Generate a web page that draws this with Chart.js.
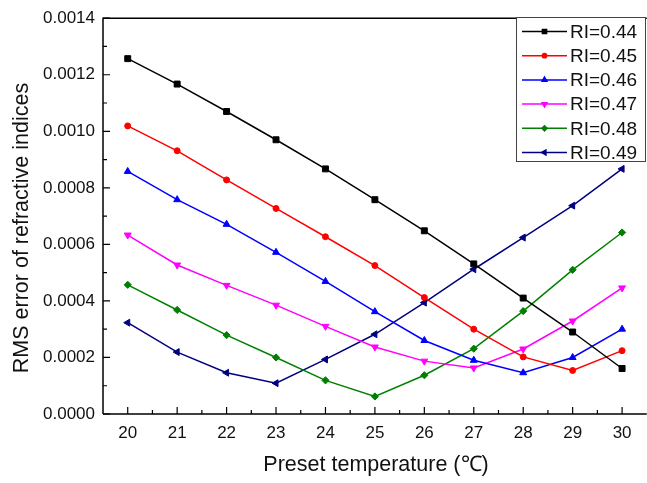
<!DOCTYPE html>
<html lang="en">
<head>
    <meta charset="UTF-8">
    <title>RMS error vs preset temperature</title>
    <script src="https://cdn.jsdelivr.net/npm/chart.js"></script>
    <style>
        html, body {
            margin: 0;
            padding: 0;
            background: #ffffff;
            overflow: hidden;
        }

        .chart-box {
            width: 652px;
            height: 483px;
        }
    </style>
</head>
<body>
    <div class="chart-box">
        <canvas id="rms-chart" width="652" height="483"></canvas>
    </div>

    <script>
        // Data
        const temps = [20, 21, 22, 23, 24, 25, 26, 27, 28, 29, 30];
        const riLabels = ['RI=0.44', 'RI=0.45', 'RI=0.46', 'RI=0.47', 'RI=0.48', 'RI=0.49'];
        const ri044 = [0.001257, 0.001167, 0.00107, 0.00097, 0.000867, 0.000758, 0.000648, 0.000531, 0.000410, 0.000290, 0.000161];
        const ri045 = [0.001019, 0.000931, 0.000828, 0.000727, 0.000627, 0.000525, 0.000412, 0.000300, 0.000202, 0.000154, 0.000224];
        const ri046 = [0.000858, 0.000758, 0.000671, 0.000572, 0.000469, 0.000362, 0.000260, 0.000190, 0.000146, 0.000200, 0.000300];
        const ri047 = [0.000633, 0.000527, 0.000455, 0.000385, 0.000310, 0.000237, 0.000187, 0.000163, 0.000230, 0.000329, 0.000446];
        const ri048 = [0.000457, 0.000368, 0.000279, 0.000200, 0.000119, 0.000062, 0.000137, 0.000231, 0.000364, 0.000510, 0.000642];
        const ri049 = [0.000323, 0.000219, 0.000146, 0.000109, 0.000193, 0.000282, 0.000394, 0.000512, 0.000624, 0.000737, 0.000867];
        const yTicks = [0, 0.0002, 0.0004, 0.0006, 0.0008, 0.0010, 0.0012, 0.0014];

        const series = [ri044, ri045, ri046, ri047, ri048, ri049];
        const colors = ['#000000', '#ff0000', '#0000ff', '#ff00ff', '#008000', '#000080'];
        const markers = [
            { style: 'rect', radius: 4.2, rotation: 0 },
            { style: 'circle', radius: 3, rotation: 0 },
            { style: 'triangle', radius: 4, rotation: 0 },
            { style: 'triangle', radius: 4, rotation: 180 },
            { style: 'rectRot', radius: 3.6, rotation: 0 },
            { style: 'triangle', radius: 4, rotation: -90 }
        ];

        const datasets = series.map((values, i) => ({
            label: riLabels[i],
            data: temps.map((t, j) => ({ x: t, y: values[j] })),
            borderColor: colors[i],
            backgroundColor: colors[i],
            borderWidth: 1.5,
            pointStyle: markers[i].style,
            pointRadius: markers[i].radius,
            pointRotation: markers[i].rotation,
            pointBorderWidth: 1,
            tension: 0
        }));

        // Frame, inward ticks (major + minor), axis titles, legend
        const decorations = {
            id: 'decorations',
            beforeDatasetsDraw(chart) {
                const { ctx, chartArea: a, scales: { x, y } } = chart;
                ctx.save();
                ctx.strokeStyle = '#000';
                ctx.lineWidth = 1.5;
                ctx.beginPath();
                ctx.moveTo(a.left, a.bottom);
                ctx.lineTo(a.left, a.top);
                ctx.lineTo(a.right, a.top);
                ctx.moveTo(a.left, a.bottom);
                ctx.lineTo(a.right, a.bottom);
                ctx.stroke();

                ctx.lineWidth = 1.2;
                ctx.beginPath();
                temps.forEach((t) => {
                    const px = x.getPixelForValue(t);
                    ctx.moveTo(px, a.bottom);
                    ctx.lineTo(px, a.bottom - 7);
                    const mx = x.getPixelForValue(t + 0.5);
                    if (t + 0.5 < x.max) {
                        ctx.moveTo(mx, a.bottom);
                        ctx.lineTo(mx, a.bottom - 4);
                    }
                });
                yTicks.forEach((v, i) => {
                    const py = y.getPixelForValue(v);
                    ctx.moveTo(a.left, py);
                    ctx.lineTo(a.left + 7, py);
                    if (i < yTicks.length - 1) {
                        const my = y.getPixelForValue((v + yTicks[i + 1]) / 2);
                        ctx.moveTo(a.left, my);
                        ctx.lineTo(a.left + 4, my);
                    }
                });
                ctx.stroke();

                // axis titles
                ctx.fillStyle = '#111';
                ctx.font = '21.5px Arial, "Liberation Sans", sans-serif';
                ctx.textAlign = 'center';
                ctx.textBaseline = 'middle';
                ctx.fillText('Preset temperature (\u2103)', 376, 465);
                ctx.translate(22, 228);
                ctx.rotate(-Math.PI / 2);
                ctx.fillText('RMS error of refractive indices', 0, 0);
                ctx.restore();
            },
            afterDraw(chart) {
                const { ctx } = chart;
                const left = 516, top = 17, width = 130, height = 145, rowH = 24.2;
                ctx.save();
                ctx.fillStyle = '#ffffff';
                ctx.fillRect(left, top, width, height);
                ctx.strokeStyle = '#444';
                ctx.lineWidth = 1;
                ctx.strokeRect(left + 0.5, top + 0.5, width - 1, height - 1);
                ctx.font = '19px Arial, "Liberation Sans", sans-serif';
                ctx.textAlign = 'left';
                ctx.textBaseline = 'middle';
                chart.data.datasets.forEach((ds, i) => {
                    const cy = top + 14.5 + i * rowH;
                    ctx.strokeStyle = ds.borderColor;
                    ctx.fillStyle = ds.borderColor;
                    ctx.lineWidth = 1.5;
                    ctx.beginPath();
                    ctx.moveTo(522, cy);
                    ctx.lineTo(567, cy);
                    ctx.stroke();
                    Chart.helpers.drawPoint(ctx, {
                        pointStyle: ds.pointStyle,
                        radius: ds.pointRadius * 0.7,
                        rotation: ds.pointRotation,
                        borderWidth: 1
                    }, 544.5, cy);
                    ctx.fillStyle = '#111';
                    ctx.fillText(ds.label, 570, cy + 1);
                });
                ctx.restore();
            }
        };

        new Chart(document.getElementById('rms-chart').getContext('2d'), {
            type: 'line',
            data: { datasets },
            plugins: [decorations],
            options: {
                responsive: false,
                animation: false,
                layout: { padding: { left: 0, right: 2, top: 15, bottom: 0 } },
                plugins: {
                    legend: { display: false },
                    tooltip: { enabled: false }
                },
                scales: {
                    x: {
                        type: 'linear',
                        min: 19.5,
                        max: 30.5,
                        afterBuildTicks: (scale) => { scale.ticks = temps.map((v) => ({ value: v })); },
                        afterFit: (scale) => { scale.height = 69; },
                        grid: { display: false, drawTicks: false },
                        border: { display: false },
                        ticks: {
                            color: '#111',
                            padding: 9,
                            maxRotation: 0,
                            autoSkip: false,
                            font: { family: 'Arial, "Liberation Sans", sans-serif', size: 17 }
                        }
                    },
                    y: {
                        min: 0,
                        max: 0.0014,
                        afterBuildTicks: (scale) => { scale.ticks = yTicks.map((v) => ({ value: v })); },
                        afterFit: (scale) => { scale.width = 103; },
                        grid: { display: false, drawTicks: false },
                        border: { display: false },
                        ticks: {
                            color: '#111',
                            padding: 8,
                            autoSkip: false,
                            callback: (v) => v.toFixed(4),
                            font: { family: 'Arial, "Liberation Sans", sans-serif', size: 17 }
                        }
                    }
                }
            }
        });
    </script>
</body>
</html>
